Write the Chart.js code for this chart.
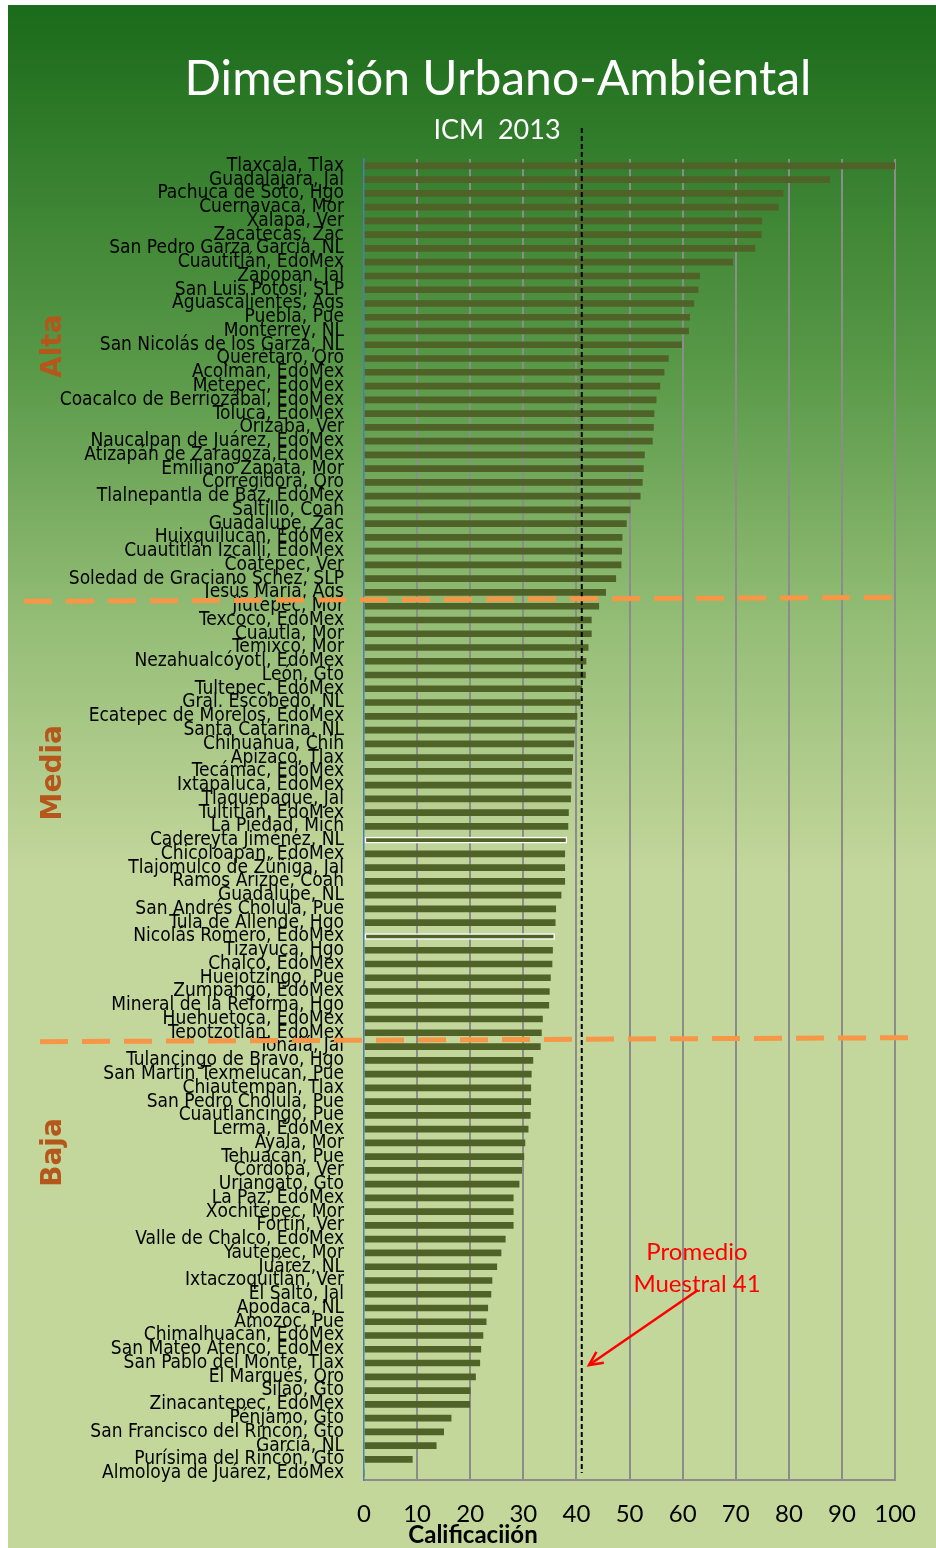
<!DOCTYPE html>
<html lang="es">
<head>
<meta charset="UTF-8">
<title>Dimensión Urbano-Ambiental</title>
<script src="https://cdn.jsdelivr.net/npm/chart.js"></script>
<style>
  html, body { margin: 0; padding: 0; background: #ffffff; }
  canvas { display: block; }
</style>
</head>
<body>
<canvas id="chart" width="936" height="1548"></canvas>
<script>
// municipios, ordered as in the chart (top to bottom)
const municipios = [
  'Tlaxcala, Tlax', 'Guadalajara, Jal', 'Pachuca de Soto, Hgo', 'Cuernavaca, Mor', 'Xalapa, Ver',
  'Zacatecas, Zac', 'San Pedro Garza García, NL', 'Cuautitlán, EdoMex', 'Zapopan, Jal', 'San Luis Potosí, SLP',
  'Aguascalientes, Ags', 'Puebla, Pue', 'Monterrey, NL', 'San Nicolás de los Garza, NL', 'Querétaro, Qro',
  'Acolman, EdoMex', 'Metepec, EdoMex', 'Coacalco de Berriozábal, EdoMex', 'Toluca, EdoMex', 'Orizaba, Ver',
  'Naucalpan de Juárez, EdoMex', 'Atizapán de Zaragoza,EdoMex', 'Emiliano Zapata, Mor', 'Corregidora, Qro', 'Tlalnepantla de Baz, EdoMex',
  'Saltillo, Coah', 'Guadalupe, Zac', 'Huixquilucan, EdoMex', 'Cuautitlán Izcalli, EdoMex', 'Coatepec, Ver',
  'Soledad de Graciano Schez, SLP', 'Jesús María, Ags',
  'Jiutepec, Mor', 'Texcoco, EdoMex', 'Cuautla, Mor', 'Temixco, Mor', 'Nezahualcóyotl, EdoMex',
  'León, Gto', 'Tultepec, EdoMex', 'Gral. Escobedo, NL', 'Ecatepec de Morelos, EdoMex', 'Santa Catarina, NL',
  'Chihuahua, Chih', 'Apizaco, Tlax', 'Tecámac, EdoMex', 'Ixtapaluca, EdoMex', 'Tlaquepaque, Jal',
  'Tultitlán, EdoMex', 'La Piedad, Mich', 'Cadereyta Jiménez, NL', 'Chicoloapan, EdoMex', 'Tlajomulco de Zúñiga, Jal',
  'Ramos Arizpe, Coah', 'Guadalupe, NL', 'San Andrés Cholula, Pue', 'Tula de Allende, Hgo', 'Nicolás Romero, EdoMex',
  'Tizayuca, Hgo', 'Chalco, EdoMex', 'Huejotzingo, Pue', 'Zumpango, EdoMex', 'Mineral de la Reforma, Hgo',
  'Huehuetoca, EdoMex', 'Tepotzotlán, EdoMex',
  'Tonalá, Jal', 'Tulancingo de Bravo, Hgo', 'San Martín Texmelucan, Pue', 'Chiautempan, Tlax', 'San Pedro Cholula, Pue',
  'Cuautlancingo, Pue', 'Lerma, EdoMex', 'Ayala, Mor', 'Tehuacán, Pue', 'Córdoba, Ver',
  'Uriangato, Gto', 'La Paz, EdoMex', 'Xochitepec, Mor', 'Fortín, Ver', 'Valle de Chalco, EdoMex',
  'Yautepec, Mor', 'Juárez, NL', 'Ixtaczoquitlán, Ver', 'El Salto, Jal', 'Apodaca, NL',
  'Amozoc, Pue', 'Chimalhuacán, EdoMex', 'San Mateo Atenco, EdoMex', 'San Pablo del Monte, Tlax', 'El Marqués, Qro',
  'Silao, Gto', 'Zinacantepec, EdoMex', 'Pénjamo, Gto', 'San Francisco del Rincón, Gto', 'García, NL',
  'Purísima del Rincón, Gto', 'Almoloya de Juárez, EdoMex'
];

// calificación
const calificacion = [
  100, 87.7, 78.9, 78.0, 74.9,
  74.8, 73.6, 69.4, 63.2, 62.9,
  62.1, 61.3, 61.1, 59.8, 57.3,
  56.5, 55.7, 55.0, 54.6, 54.5,
  54.3, 52.8, 52.6, 52.4, 52.0,
  50.1, 49.4, 48.6, 48.5, 48.4,
  47.4, 45.5,
  44.2, 42.8, 42.8, 42.2, 41.8,
  41.7, 41.0, 40.7, 40.1, 39.7,
  39.5, 39.3, 39.1, 39.0, 38.9,
  38.5, 38.4, 38.2, 37.8, 37.8,
  37.8, 37.1, 36.1, 36.0, 35.9,
  35.5, 35.4, 35.1, 34.9, 34.8,
  33.6, 33.4,
  33.2, 31.8, 31.5, 31.4, 31.4,
  31.3, 30.9, 30.3, 30.1, 29.7,
  29.2, 28.1, 28.1, 28.1, 26.6,
  25.8, 25.0, 24.1, 23.9, 23.3,
  23.0, 22.4, 22.0, 21.8, 21.0,
  20.0, 19.9, 16.4, 15.0, 13.6,
  9.1, 0
];

// bars drawn with a white outline
const resaltados = ['Cadereyta Jiménez, NL', 'Nicolás Romero, EdoMex'];

const xTicks = [0, 10, 20, 30, 40, 50, 60, 70, 80, 90, 100];
const promedio = 41;

// groups: label + last municipio of the group
const grupos = ['Alta', 'Media', 'Baja'];
const finGrupo = ['Jesús María, Ags', 'Tepotzotlán, EdoMex', 'Almoloya de Juárez, EdoMex'];
// where each group label sits, as a category position
const posGrupo = [13.1, 44.1, 71.7];

const labelFont = '"Liberation Sans Narrow", "DejaVu Sans Condensed", "Liberation Sans", sans-serif';
const textFont = 'Lato, "Open Sans", sans-serif';

const decoPlugin = {
  id: 'deco',
  beforeDraw(chart) {
    const ctx = chart.ctx;
    ctx.save();
    ctx.fillStyle = '#ffffff';
    ctx.fillRect(0, 0, chart.width, chart.height);
    const g = ctx.createLinearGradient(0, 5, 0, chart.height);
    g.addColorStop(0, '#1a6b1a');
    g.addColorStop(0.24, '#5a9a49');
    g.addColorStop(0.4, '#94bd76');
    g.addColorStop(0.56, '#c3d69b');
    g.addColorStop(1, '#c4d79b');
    ctx.fillStyle = g;
    ctx.fillRect(8, 5, chart.width - 8, chart.height - 5);

    // titles
    ctx.fillStyle = '#ffffff';
    ctx.textAlign = 'center';
    ctx.textBaseline = 'middle';
    ctx.font = '48px ' + textFont;
    ctx.fillText('Dimensión Urbano-Ambiental', 498, 80);
    ctx.font = '27px ' + textFont;
    ctx.fillText('ICM  2013', 497, 130);
    ctx.restore();
  },
  afterDatasetsDraw(chart) {
    const ctx = chart.ctx;
    const x = chart.scales.x;
    const y = chart.scales.y;
    ctx.save();

    // average line
    const px = x.getPixelForValue(promedio);
    ctx.strokeStyle = '#000000';
    ctx.lineWidth = 2;
    ctx.setLineDash([5, 3]);
    ctx.beginPath();
    ctx.moveTo(px, 128);
    ctx.lineTo(px, chart.chartArea.bottom - 7);
    ctx.stroke();

    // group separators
    ctx.strokeStyle = '#F79646';
    ctx.lineWidth = 5;
    ctx.setLineDash([28, 14]);
    const ext = [[24, 905], [40, 920]];
    for (let i = 0; i < 2; i++) {
      const idx = municipios.indexOf(finGrupo[i]);
      const py = (y.getPixelForValue(idx) + y.getPixelForValue(idx + 1)) / 2;
      ctx.beginPath();
      ctx.moveTo(ext[i][0], py + 2);
      ctx.lineTo(ext[i][1], py - 2);
      ctx.stroke();
    }
    ctx.setLineDash([]);

    // group labels, rotated
    ctx.fillStyle = '#B5561A';
    ctx.font = 'bold 28px "DejaVu Sans", Verdana, sans-serif';
    ctx.textAlign = 'center';
    ctx.textBaseline = 'middle';
    for (let i = 0; i < grupos.length; i++) {
      const cy = y.getPixelForValue(posGrupo[i]);
      ctx.save();
      ctx.translate(54, cy);
      ctx.rotate(-Math.PI / 2);
      ctx.fillText(grupos[i], 0, 0);
      ctx.restore();
    }

    // annotation
    ctx.fillStyle = '#FF0000';
    ctx.font = '24px ' + textFont;
    ctx.fillText('Promedio', 697, 1252);
    ctx.fillText('Muestral 41', 697, 1284);
    ctx.strokeStyle = '#FF0000';
    ctx.lineWidth = 2.5;
    const x0 = 698, y0 = 1290, x1 = 589, y1 = 1365;
    ctx.beginPath();
    ctx.moveTo(x0, y0);
    ctx.lineTo(x1, y1);
    ctx.stroke();
    const a = Math.atan2(y1 - y0, x1 - x0);
    ctx.beginPath();
    ctx.moveTo(x1 - 15 * Math.cos(a - 0.45), y1 - 15 * Math.sin(a - 0.45));
    ctx.lineTo(x1, y1);
    ctx.lineTo(x1 - 15 * Math.cos(a + 0.45), y1 - 15 * Math.sin(a + 0.45));
    ctx.stroke();

    // axis title
    ctx.fillStyle = '#000000';
    ctx.font = 'bold 24px ' + textFont;
    ctx.fillText('Calificaciión', 473, 1535);
    ctx.restore();
  }
};

new Chart(document.getElementById('chart'), {
  type: 'bar',
  data: {
    labels: municipios,
    datasets: [{
      data: calificacion,
      backgroundColor: '#4F6228',
      borderColor: municipios.map(m => resaltados.includes(m) ? '#ffffff' : '#4F6228'),
      borderWidth: municipios.map(m => resaltados.includes(m) ? 1.5 : 0),
      borderSkipped: false,
      barThickness: 6
    }]
  },
  options: {
    indexAxis: 'y',
    responsive: false,
    animation: false,
    devicePixelRatio: 1,
    layout: { padding: { top: 159, right: 40, left: 0, bottom: 0 } },
    plugins: {
      legend: { display: false },
      tooltip: { enabled: false }
    },
    scales: {
      x: {
        min: 0,
        max: 100,
        afterBuildTicks: s => { s.ticks = xTicks.map(v => ({ value: v })); },
        afterFit: s => { s.height = 68; },
        ticks: { color: '#000000', font: { size: 24, family: textFont }, padding: 20 },
        grid: {
          color: c => c.tick && c.tick.value === 0 ? 'rgba(0,0,0,0)' : '#8c8c8c',
          lineWidth: 2,
          drawTicks: false
        },
        border: { color: '#8c8c8c', width: 2 }
      },
      y: {
        afterFit: s => { s.width = 364; },
        ticks: {
          color: '#000000',
          autoSkip: false,
          padding: 20,
          font: { size: 19, family: labelFont }
        },
        grid: { display: false, drawTicks: false },
        border: { display: true, color: '#4A7EBB', width: 1.5 }
      }
    }
  },
  plugins: [decoPlugin]
});
</script>
</body>
</html>
